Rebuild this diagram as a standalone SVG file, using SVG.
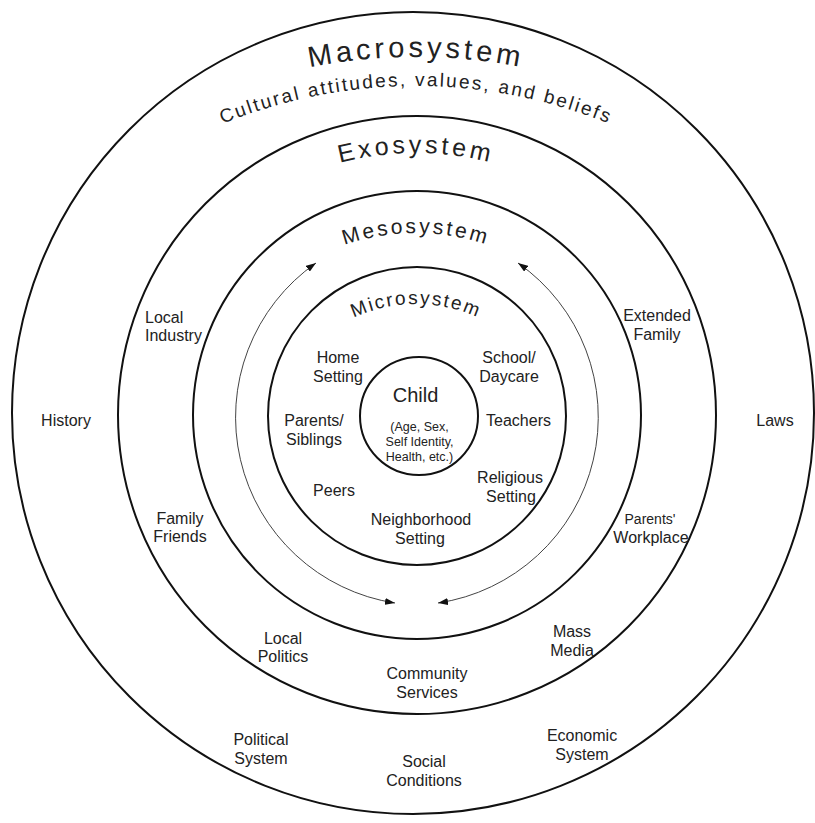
<svg xmlns="http://www.w3.org/2000/svg" xmlns:xlink="http://www.w3.org/1999/xlink" width="815" height="823" viewBox="0 0 815 823">
  <style>
    .ring { fill: none; stroke: #111; stroke-width: 2; }
    .flow { fill: none; stroke: #444; stroke-width: 1; }
    text { font-family: "Liberation Sans", Arial, sans-serif; fill: #222; }
    .lbl { font-size: 16px; text-anchor: middle; }
    .lbl.left { text-anchor: start; }
    .lbl.small { font-size: 14px; }
    .lbl.name { font-size: 20px; }
    .lbl.info { font-size: 12.5px; }
    .title { text-anchor: middle; }
  </style>
  <defs>
    <marker id="head" viewBox="0 0 10 7" markerWidth="10" markerHeight="7" refX="10" refY="3.5" markerUnits="userSpaceOnUse" orient="auto-start-reverse">
      <path d="M0,0 L10,3.5 L0,7 z" fill="#111"/>
    </marker>
    <!-- baselines for the arched ring titles -->
    <path id="arcMacro" d="M66.9,184 A543,543 0 0 1 765.1,184"/>
    <path id="arcCulture" d="M85.6,206.3 A514,514 0 0 1 746.4,206.3"/>
    <path id="arcExo" d="M221.9,223.7 A302,302 0 0 1 610.1,223.7"/>
    <path id="arcMeso" d="M246,312.3 A222,222 0 0 1 586,312.3"/>
    <path id="arcMicro" d="M287,378.5 A149,149 0 0 1 545,378.5"/>
  </defs>

  <rect width="815" height="823" fill="#fff"/>

  <!-- outer ring: macrosystem -->
  <g id="macrosystem">
    <circle class="ring" cx="413" cy="413" r="401"/>
    <text class="title" font-size="29" letter-spacing="3.8"><textPath xlink:href="#arcMacro" href="#arcMacro" startOffset="50%">Macrosystem</textPath></text>
    <text class="title" font-size="19" letter-spacing="2.2"><textPath xlink:href="#arcCulture" href="#arcCulture" startOffset="50%">Cultural attitudes, values, and beliefs</textPath></text>
    <text class="lbl" x="66" y="426">History</text>
    <text class="lbl" x="775" y="426">Laws</text>
    <text class="lbl" x="261" y="745">Political</text>
    <text class="lbl" x="261" y="764">System</text>
    <text class="lbl" x="424" y="767">Social</text>
    <text class="lbl" x="424" y="786">Conditions</text>
    <text class="lbl" x="582" y="741">Economic</text>
    <text class="lbl" x="582" y="760">System</text>
  </g>

  <!-- exosystem ring -->
  <g id="exosystem">
    <circle class="ring" cx="417" cy="415" r="299"/>
    <text class="title" font-size="25" letter-spacing="3.5"><textPath xlink:href="#arcExo" href="#arcExo" startOffset="50%">Exosystem</textPath></text>
    <text class="lbl left" x="145" y="323">Local</text>
    <text class="lbl left" x="145" y="341">Industry</text>
    <text class="lbl" x="657" y="321">Extended</text>
    <text class="lbl" x="657" y="340">Family</text>
    <text class="lbl" x="180" y="524">Family</text>
    <text class="lbl" x="180" y="542">Friends</text>
    <text class="lbl small" x="650" y="524">Parents'</text>
    <text class="lbl" x="651" y="543">Workplace</text>
    <text class="lbl" x="283" y="644">Local</text>
    <text class="lbl" x="283" y="662">Politics</text>
    <text class="lbl" x="572" y="637">Mass</text>
    <text class="lbl" x="572" y="656">Media</text>
    <text class="lbl" x="427" y="679">Community</text>
    <text class="lbl" x="427" y="698">Services</text>
  </g>

  <!-- mesosystem ring -->
  <g id="mesosystem">
    <circle class="ring" cx="417" cy="415" r="224"/>
    <text class="title" font-size="21" letter-spacing="2.8"><textPath xlink:href="#arcMeso" href="#arcMeso" startOffset="50%">Mesosystem</textPath></text>
  </g>

  <!-- microsystem ring -->
  <g id="microsystem">
    <circle class="ring" cx="417" cy="416" r="149"/>
    <text class="title" font-size="19" letter-spacing="2"><textPath xlink:href="#arcMicro" href="#arcMicro" startOffset="50%">Microsystem</textPath></text>
    <text class="lbl" x="338" y="363">Home</text>
    <text class="lbl" x="338" y="382">Setting</text>
    <text class="lbl" x="509" y="363">School/</text>
    <text class="lbl" x="509" y="382">Daycare</text>
    <text class="lbl" x="314" y="426">Parents/</text>
    <text class="lbl" x="314" y="445">Siblings</text>
    <text class="lbl" x="518.5" y="426">Teachers</text>
    <text class="lbl" x="510" y="483">Religious</text>
    <text class="lbl" x="511" y="502">Setting</text>
    <text class="lbl" x="334" y="496">Peers</text>
    <text class="lbl" x="421" y="525">Neighborhood</text>
    <text class="lbl" x="420" y="544">Setting</text>
  </g>

  <!-- centre: the child -->
  <g id="child">
    <circle class="ring" cx="419" cy="416" r="59"/>
    <text class="lbl name" x="415.5" y="402">Child</text>
    <text class="lbl info" x="419.5" y="431">(Age, Sex,</text>
    <text class="lbl info" x="419.5" y="446">Self Identity,</text>
    <text class="lbl info" x="419.5" y="461">Health, etc.)</text>
  </g>

  <!-- two-way links between microsystem settings -->
  <g id="connectors">
    <path class="flow" d="M395,603 A188,188 0 0 1 316,263" marker-start="url(#head)" marker-end="url(#head)"/>
    <path class="flow" d="M438,603 A188,188 0 0 0 518,263" marker-start="url(#head)" marker-end="url(#head)"/>
  </g>
</svg>
